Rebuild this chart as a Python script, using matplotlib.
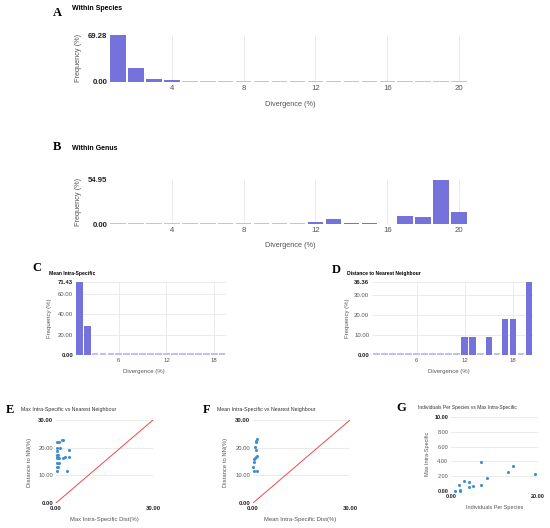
import numpy as np
import matplotlib
matplotlib.use("Agg")
import matplotlib.pyplot as plt

plt.rcParams['font.family'] = ['Liberation Sans', 'DejaVu Sans']

W, H = 550, 528

# --- data ---
species_bins = np.arange(1, 21)
species_freq = [69.28, 21.3, 5.0, 3.6, 0, 0, 0, 0, 0, 0, 0, 0, 0, 0, 0, 0, 0, 0, 0, 0]

genus_bins = np.arange(1, 21)
genus_freq = [0, 0, 0, 0, 0, 0, 0, 0, 0, 0, 0, 2.5, 5.8, 1.7, 0.8, 0.3, 10.0, 8.3, 54.95, 15.4]

mean_bins = np.arange(1, 20)
mean_freq = [71.43, 28.57] + [0] * 17

nn_bins = np.arange(1, 21)
nn_freq = [0] * 11 + [9.09, 9.09, 0, 9.09, 0, 18.18, 18.18, 0, 36.36]

max_intra = [0.2, 1.0, 1.8, 2.1, 1.3, 0.2, 0.2, 4.0, 0.2, 0.7, 0.2, 0.2, 0.9,
             2.3, 2.8, 3.9, 0.2, 0.8, 0.2, 0.7, 0.2, 3.5]
nn_dist_e = [21.9, 21.9, 22.9, 22.9, 20.0, 19.8, 18.9, 19.1, 17.4, 17.3, 16.8, 16.1, 16.1,
             16.2, 16.6, 16.8, 14.6, 14.6, 13.0, 13.0, 11.5, 11.5]

mean_intra = [1.2, 1.0, 0.8, 0.5, 1.0, 1.1, 0.9, 0.6, 0.3, 0.2, 0.0, 0.2, 1.2]
nn_dist_f = [23.1, 22.5, 22.1, 20.2, 19.2, 17.0, 16.6, 16.2, 15.8, 14.7, 13.1, 11.5, 11.5]

ind_per_species = [1.0, 2.1, 2.1, 1.9, 3.1, 4.1, 4.1, 5.1, 7.0, 7.0, 8.2, 13.1, 14.2, 19.2]
max_intra_g = [0.0, 0.05, 0.2, 0.85, 1.3, 1.2, 0.55, 0.7, 3.9, 0.75, 1.8, 2.6, 3.4, 2.3]

BAR = '#7572db'
BAR_ZERO = '#c2bff2'
GRID = '#e8e8e8'
DOT = '#3f8fd2'
LINE = '#f04848'
TXT = '#222222'
GREY = '#555555'


def box(x0, y0, x1, y1):
    return [x0 / W, 1 - y1 / H, (x1 - x0) / W, (y1 - y0) / H]


def ftext(x, y, s, **kw):
    fig.text(x / W, 1 - y / H, s, **kw)


def style(ax, xticks, yticks, xlim, ylim, tsize, bold_x_ends=False, vgrid=True, hgrid=True):
    ax.set_xlim(xlim)
    ax.set_ylim(ylim)
    for sp in ax.spines.values():
        sp.set_visible(False)
    ax.set_xticks(xticks)
    ax.set_yticks(yticks)
    ax.set_yticklabels(['%.2f' % v for v in yticks])
    if bold_x_ends:
        ax.set_xticklabels(['%.2f' % v for v in xticks])
    ax.tick_params(length=0, labelsize=tsize, colors=GREY, pad=2)
    ylabs = ax.get_yticklabels()
    for lab in (ylabs[0], ylabs[-1]):
        lab.set_fontweight('bold')
        lab.set_color(TXT)
    if bold_x_ends:
        xlabs = ax.get_xticklabels()
        for lab in (xlabs[0], xlabs[-1]):
            lab.set_fontweight('bold')
            lab.set_color(TXT)
    ax.set_axisbelow(True)
    if vgrid:
        ax.xaxis.grid(True, color=GRID, lw=0.6)
    if hgrid:
        ax.yaxis.grid(True, color=GRID, lw=0.6)


def bars(ax, bins, freq, top):
    freq = np.asarray(freq, dtype=float)
    zero = freq == 0
    ax.bar(bins[~zero], freq[~zero], width=0.86, color=BAR, zorder=3)
    ax.bar(bins[zero], np.full(zero.sum(), top * 0.028), width=0.86, color=BAR_ZERO, zorder=3)


fig = plt.figure(figsize=(W / 100, H / 100), dpi=100)

# A
ax = fig.add_axes(box(110, 35, 468, 82))
bars(ax, species_bins, species_freq, 69.28)
style(ax, [4, 8, 12, 16, 20], [0, 69.28], (0.55, 20.5), (0, 69.28), 5.6, hgrid=False)
ftext(53, 13, 'A', family='Liberation Serif', weight='bold', fontsize=9, va='center')
ftext(72, 9, 'Within Species', weight='bold', fontsize=5, va='center')
ftext(78, 58, 'Frequency (%)', rotation=90, fontsize=5.3, color=GREY, ha='center', va='center')
ftext(290, 104, 'Divergence (%)', fontsize=5.3, color=GREY, ha='center', va='center')

# B
ax = fig.add_axes(box(110, 180, 468, 224))
bars(ax, genus_bins, genus_freq, 54.95)
style(ax, [4, 8, 12, 16, 20], [0, 54.95], (0.55, 20.5), (0, 54.95), 5.6, hgrid=False)
ftext(53, 147, 'B', family='Liberation Serif', weight='bold', fontsize=9, va='center')
ftext(72, 148, 'Within Genus', weight='bold', fontsize=5, va='center')
ftext(78, 202, 'Frequency (%)', rotation=90, fontsize=5.3, color=GREY, ha='center', va='center')
ftext(290, 246, 'Divergence (%)', fontsize=5.3, color=GREY, ha='center', va='center')

# C
ax = fig.add_axes(box(76, 282, 226, 355))
bars(ax, mean_bins, mean_freq, 71.43)
style(ax, [6, 12, 18], [0, 20, 40, 60, 71.43], (0.6, 19.5), (0, 71.43), 4.3)
ftext(32, 268, 'C', family='Liberation Serif', weight='bold', fontsize=9, va='center')
ftext(49, 273, 'Mean Intra-Specific', weight='bold', fontsize=3.6, va='center')
ftext(49, 318, 'Frequency (%)', rotation=90, fontsize=4.3, color=GREY, ha='center', va='center')
ftext(144, 372, 'Divergence (%)', fontsize=4.3, color=GREY, ha='center', va='center')

# D
ax = fig.add_axes(box(372, 282, 533, 355))
bars(ax, nn_bins, nn_freq, 36.36)
style(ax, [6, 12, 18], [0, 10, 20, 30, 36.36], (0.4, 20.5), (0, 36.36), 4.3)
ftext(332, 270, 'D', family='Liberation Serif', weight='bold', fontsize=9, va='center')
ftext(347, 273, 'Distance to Nearest Neighbour', weight='bold', fontsize=3.6, va='center')
ftext(348, 318, 'Frequency (%)', rotation=90, fontsize=4.3, color=GREY, ha='center', va='center')
ftext(449, 372, 'Divergence (%)', fontsize=4.3, color=GREY, ha='center', va='center')

# E
ax = fig.add_axes(box(56, 420, 153, 503))
style(ax, [0, 30], [0, 10, 20, 30], (0, 30), (0, 30), 4.2, bold_x_ends=True, vgrid=False)
ax.plot([0, 30], [0, 30], color=LINE, lw=0.7, zorder=3)
ax.scatter(max_intra, nn_dist_e, s=5, color=DOT, lw=0, zorder=4, clip_on=False)
ftext(6, 410, 'E', family='Liberation Serif', weight='bold', fontsize=9, va='center')
ftext(21, 410, 'Max Intra-Specific vs Nearest Neighbour', fontsize=3.8, color='#333333', va='center')
ftext(29, 462, 'Distance to NN(%)', rotation=90, fontsize=4.2, color=GREY, ha='center', va='center')
ftext(104, 520, 'Max Intra-Specific Dist(%)', fontsize=4.2, color=GREY, ha='center', va='center')

# F
ax = fig.add_axes(box(253, 420, 350, 503))
style(ax, [0, 30], [0, 10, 20, 30], (0, 30), (0, 30), 4.2, bold_x_ends=True, vgrid=False)
ax.plot([0, 30], [0, 30], color=LINE, lw=0.7, zorder=3)
ax.scatter(mean_intra, nn_dist_f, s=5, color=DOT, lw=0, zorder=4, clip_on=False)
ftext(203, 410, 'F', family='Liberation Serif', weight='bold', fontsize=9, va='center')
ftext(217, 410, 'Mean Intra-Specific vs Nearest Neighbour', fontsize=3.8, color='#333333', va='center')
ftext(226, 462, 'Distance to NN(%)', rotation=90, fontsize=4.2, color=GREY, ha='center', va='center')
ftext(300, 520, 'Mean Intra-Specific Dist(%)', fontsize=4.2, color=GREY, ha='center', va='center')

# G
ax = fig.add_axes(box(451, 417, 538, 491))
style(ax, [0, 20], [0, 2, 4, 6, 8, 10], (0, 20), (0, 10), 4.0, bold_x_ends=True, vgrid=False)
ax.scatter(ind_per_species, max_intra_g, s=5, color=DOT, lw=0, zorder=4, clip_on=False)
ftext(396, 408, 'G', family='Liberation Serif', weight='bold', fontsize=9, va='center')
ftext(418, 408, 'Individuals Per Species vs Max Intra-Specific', fontsize=3.5, color='#333333', va='center')
ftext(427, 454, 'Max Intra-Specific', rotation=90, fontsize=4.0, color=GREY, ha='center', va='center')
ftext(495, 507, 'Individuals Per Species', fontsize=4.0, color=GREY, ha='center', va='center')

fig.savefig('out.png', dpi=100)
